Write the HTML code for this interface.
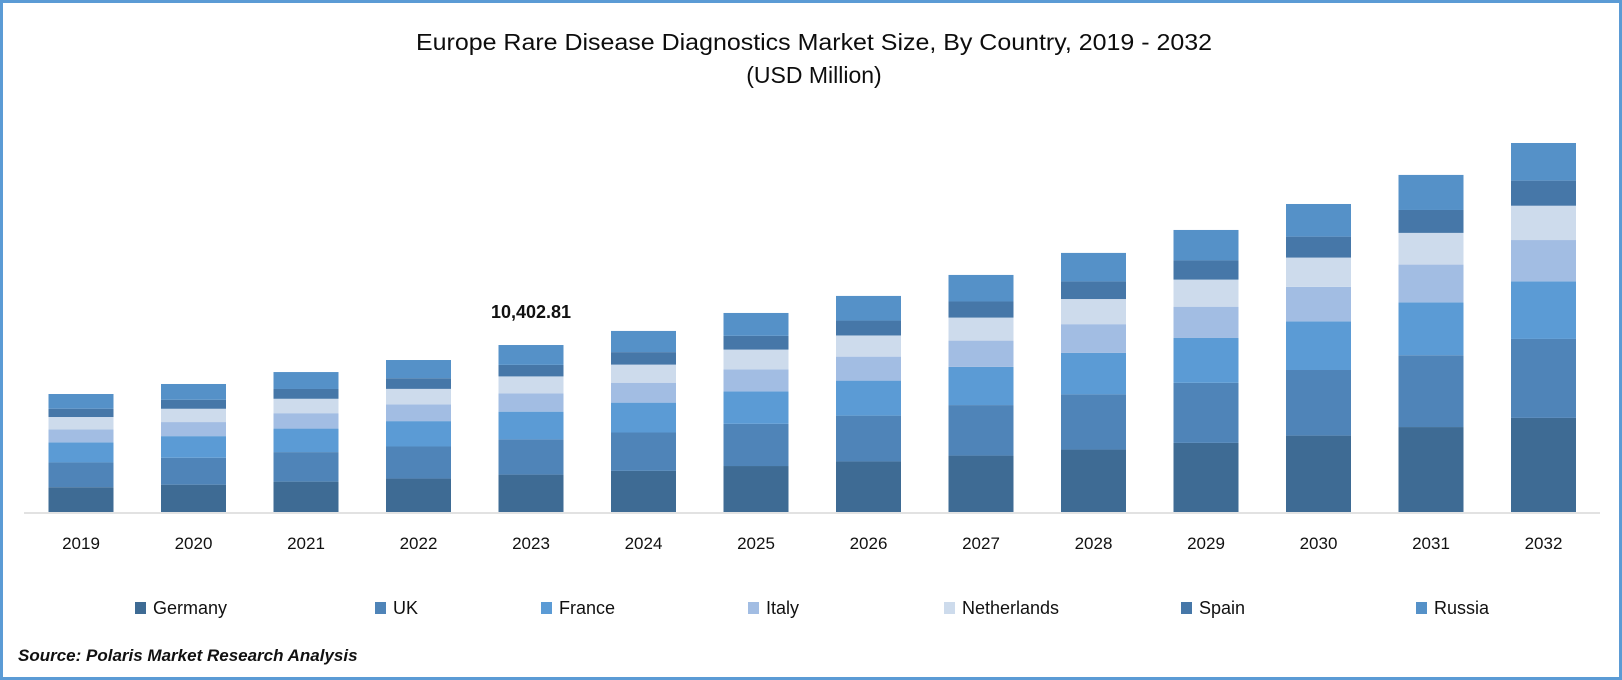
<!DOCTYPE html>
<html><head><meta charset="utf-8"><style>
html,body{margin:0;padding:0;background:#fff;}
svg{display:block;font-family:"Liberation Sans",sans-serif;}
</style></head><body>
<svg id="chart" width="1622" height="680" viewBox="0 0 1622 680">
<rect x="1.5" y="1.5" width="1619" height="677" fill="#fff" stroke="#5b9bd5" stroke-width="3"/>
<text x="814" y="50" text-anchor="middle" font-size="23" fill="#0d0d0d" textLength="796" lengthAdjust="spacingAndGlyphs">Europe Rare Disease Diagnostics Market Size, By Country, 2019 - 2032</text>
<text x="814" y="83" text-anchor="middle" font-size="23" fill="#0d0d0d">(USD Million)</text>
<line x1="24" y1="513" x2="1600" y2="513" stroke="#d9d9d9" stroke-width="1.5"/>
<g id="bars"></g>
<g id="xlabels"></g>
<g id="legend"></g>
<text x="18" y="661" font-size="17" font-weight="bold" font-style="italic" fill="#111">Source: Polaris Market Research Analysis</text>
</svg>
<script>
const years = ["2019","2020","2021","2022","2023","2024","2025","2026","2027","2028","2029","2030","2031","2032"];
const seriesNames = ["Germany","UK","France","Italy","Netherlands","Spain","Russia"];
const germany = [1544,1703,1892,2083,2330,2561,2864,3150,3515,3890,4305,4759,5292,5862];
const uk = [1544,1675,1840,1998,2195,2391,2629,2854,3146,3438,3742,4087,4473,4920];
const france = [1250,1348,1465,1581,1727,1861,2021,2181,2378,2582,2794,3032,3297,3586];
const italy = [808,877,959,1042,1144,1241,1376,1494,1639,1792,1950,2149,2352,2575];
const netherlands = [772,829,898,966,1051,1128,1228,1319,1433,1566,1687,1823,1974,2138];
const spain = [515,558,610,663,718,778,856,929,1004,1098,1195,1305,1428,1563];
const russia = [918,985,1055,1136,1238,1320,1426,1534,1654,1775,1898,2034,2184,2345];
const annotationYear = "2023";
const annotationText = "10,402.81";

const seriesData = [germany, uk, france, italy, netherlands, spain, russia];
const colors = ["#3e6b94","#4f84b8","#5b9bd5","#a2bde3","#cddbec","#4677a8","#5591c8"];
const NS = "http://www.w3.org/2000/svg";
const baseY = 512, pxPerUnit = 1/62.3;
const x0 = 81, pitch = 112.5, barW = 65;
function xCenter(i){ return x0 + i*pitch; }
function yScale(v){ return baseY - v*pxPerUnit; }

const bars = document.getElementById("bars");
const xl = document.getElementById("xlabels");
years.forEach((yr, i) => {
  let cum = 0;
  seriesData.forEach((s, k) => {
    const v = s[i];
    const yTop = yScale(cum + v), yBot = yScale(cum);
    const r = document.createElementNS(NS, "rect");
    r.setAttribute("x", xCenter(i) - barW/2);
    r.setAttribute("y", yTop);
    r.setAttribute("width", barW);
    r.setAttribute("height", yBot - yTop);
    r.setAttribute("fill", colors[k]);
    
    
    bars.appendChild(r);
    cum += v;
  });
  if (yr === annotationYear) {
    const t = document.createElementNS(NS, "text");
    t.setAttribute("x", xCenter(i));
    t.setAttribute("y", yScale(cum) - 27);
    t.setAttribute("text-anchor", "middle");
    t.setAttribute("font-size", "18");
    t.setAttribute("font-weight", "bold");
    t.setAttribute("fill", "#111");
    t.textContent = annotationText;
    
    
    bars.appendChild(t);
  }
  const lt = document.createElementNS(NS, "text");
  lt.setAttribute("x", xCenter(i));
  lt.setAttribute("y", 549);
  lt.setAttribute("text-anchor", "middle");
  lt.setAttribute("font-size", "17");
  lt.setAttribute("fill", "#111");
  lt.textContent = yr;
  
  
  xl.appendChild(lt);
});

const legendX = [140, 380, 546, 753, 949, 1186, 1421];
const lg = document.getElementById("legend");
seriesNames.forEach((n, k) => {
  const g = document.createElementNS(NS, "g");
  
  
  const m = document.createElementNS(NS, "rect");
  m.setAttribute("x", legendX[k] - 5);
  m.setAttribute("y", 602);
  m.setAttribute("width", 11);
  m.setAttribute("height", 12);
  m.setAttribute("fill", colors[k]);
  
  
  const t = document.createElementNS(NS, "text");
  t.setAttribute("x", legendX[k] + 13);
  t.setAttribute("y", 614);
  t.setAttribute("font-size", "18");
  t.setAttribute("fill", "#111");
  t.textContent = n;
  
  
  g.appendChild(m); g.appendChild(t);
  lg.appendChild(g);
});
</script>
</body></html>
